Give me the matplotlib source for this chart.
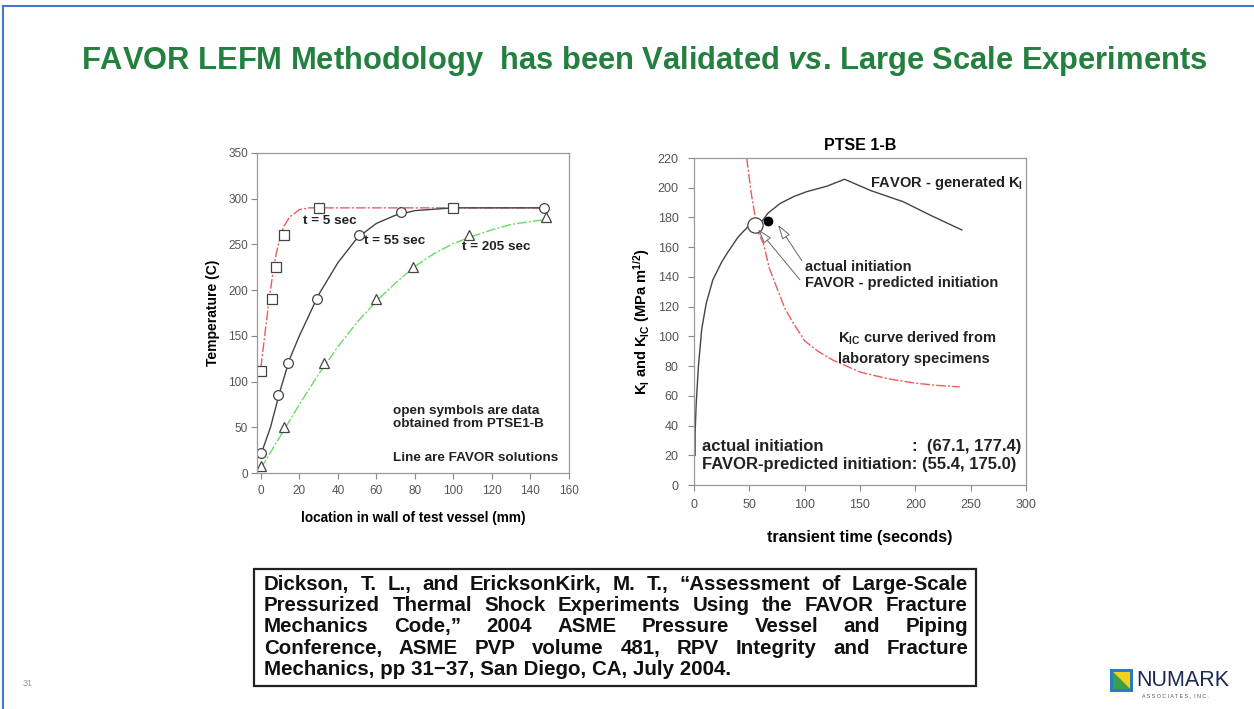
import numpy as np
import matplotlib
matplotlib.use("Agg")
import matplotlib.pyplot as plt
from matplotlib.patches import Rectangle, Polygon

# ---- left chart: temperature profiles (mm, deg C)
t5_data_x = [0, 6, 8, 12, 30, 100]
t5_data_y = [112, 190, 225, 260, 290, 290]
t5_line_x = [0, 2, 4, 6, 8, 10, 12, 15, 20, 25, 147]
t5_line_y = [115, 150, 185, 215, 240, 258, 270, 280, 288, 290, 290]

t55_data_x = [0, 9, 14, 29, 51, 73, 147]
t55_data_y = [22, 85, 120, 190, 260, 285, 290]
t55_line_x = [0, 5, 10, 15, 20, 30, 40, 50, 60, 70, 80, 100, 147]
t55_line_y = [20, 50, 90, 125, 150, 195, 230, 257, 273, 282, 287, 290, 290]

t205_data_x = [0, 12, 33, 60, 79, 108, 148]
t205_data_y = [8, 50, 120, 190, 225, 260, 280]
t205_line_x = [0, 10, 20, 30, 40, 50, 60, 70, 80, 90, 100, 110, 120, 130, 147]
t205_line_y = [5, 40, 75, 108, 138, 165, 188, 208, 226, 240, 251, 259, 266, 272, 277]

# ---- right chart: PTSE 1-B (seconds, MPa m^1/2)
ki_t = [1, 1, 2, 4, 7, 11, 17, 25, 30, 40, 49, 55, 62, 67, 78, 90, 102, 120, 136, 160, 189, 215, 242]
ki_v = [20, 35, 55, 80, 105, 122, 138, 150, 156, 167, 174, 176, 178, 183, 189.5, 194, 197.4, 201, 205.7, 198, 190.6, 181, 171.6]
kic_t = [47.6, 50, 52, 55, 58, 62.7, 68, 74.7, 82, 89.6, 100, 112, 125.6, 150, 175, 200, 220, 240]
kic_v = [220, 206, 195, 181.6, 170, 162.6, 146, 133, 119, 109, 97, 90, 84, 76, 71.5, 68.5, 67, 66]
actual_init = (67.1, 177.4)
favor_init = (55.4, 175.0)

citation = [
    "Dickson, T. L., and EricksonKirk, M. T., \u201cAssessment of Large-Scale",
    "Pressurized Thermal Shock Experiments Using the FAVOR Fracture",
    "Mechanics Code,\u201d 2004 ASME Pressure Vessel and Piping",
    "Conference, ASME PVP volume 481, RPV Integrity and Fracture",
    "Mechanics, pp 31\u221237, San Diego, CA, July 2004.",
]

W, H = 1254, 709
plt.rcParams['font.family'] = ['Liberation Sans', 'DejaVu Sans']
plt.rcParams['mathtext.fontset'] = 'custom'
plt.rcParams['mathtext.rm'] = 'Liberation Sans:bold'
plt.rcParams['mathtext.bf'] = 'Liberation Sans:bold'
plt.rcParams['mathtext.it'] = 'Liberation Sans:bold:italic'

fig = plt.figure(figsize=(W / 100, H / 100), dpi=100)
fig.patch.set_facecolor('white')


def fx(px):
    return px / W


def fy(py):
    return 1 - py / H


# slide border
fig.add_artist(plt.Line2D([fx(3), 1], [fy(6), fy(6)], color='#4a76c8', lw=1.5))
fig.add_artist(plt.Line2D([fx(3), fx(3)], [fy(6), 0], color='#4a76c8', lw=1.5))

fig.text(fx(644), fy(61), "FAVOR LEFM Methodology  has been Validated $\\mathit{vs}$. Large Scale Experiments",
         ha='center', va='center', fontsize=22.2, fontweight='bold', color='#23803f')


def style_axes(ax, size):
    for s in ax.spines.values():
        s.set_color('#9a9a9a')
        s.set_linewidth(0.9)
    ax.tick_params(direction='out', length=4, width=0.8, color='#888888',
                   labelsize=size, labelcolor='#555555', pad=5)


# ---------------- left chart
ax1 = fig.add_axes([fx(257), fy(473), fx(569 - 257), (473 - 153) / H])
ax1.plot(t5_line_x, t5_line_y, color='#f25a5a', lw=1, dashes=(7, 1.5, 1.5, 1.5))
ax1.plot(t55_line_x, t55_line_y, color='#444444', lw=1)
ax1.plot(t205_line_x, t205_line_y, color='#66dd66', lw=1, dashes=(7, 1.5, 1.5, 1.5))
mk = dict(ms=7, mfc='white', mec='#444444', mew=0.9, ls='none')
ax1.plot(t5_data_x, t5_data_y, 's', **mk)
ax1.plot(t55_data_x, t55_data_y, 'o', **mk)
ax1.plot(t205_data_x, t205_data_y, '^', **mk)
ax1.set_xlim(-2, 160)
ax1.set_ylim(0, 350)
ax1.set_xticks(np.arange(0, 161, 20))
ax1.set_yticks(np.arange(0, 351, 50))
style_axes(ax1, 8.5)
ax1.tick_params(axis='y', pad=2.5)
ax1.set_xlabel("location in wall of test vessel (mm)", fontsize=9.8, fontweight='bold', labelpad=10)
ax1.set_ylabel("Temperature (C)", fontsize=10, fontweight='bold', labelpad=6)
kw = dict(fontsize=9.7, fontweight='bold', color='#222222')
ax1.text(22, 276, "t = 5 sec", va='center', **kw)
ax1.text(53.5, 254, "t = 55 sec", va='center', **kw)
ax1.text(104.4, 247, "t = 205 sec", va='center', **kw)
ax1.text(68.6, 61, "open symbols are data\nobtained from PTSE1-B", va='center',
         linespacing=1.15, **kw)
ax1.text(68.6, 16, "Line are FAVOR solutions", va='center', **kw)

# ---------------- right chart
ax2 = fig.add_axes([fx(694), fy(485), fx(1026 - 694), (485 - 158) / H])
ax2.plot(kic_t, kic_v, color='#f25a5a', lw=1, dashes=(7, 1.5, 1.5, 1.5))
ax2.plot(ki_t, ki_v, color='#444444', lw=1)
ax2.plot(*favor_init, 'o', ms=11, mfc='white', mec='#444444', mew=0.9)
ax2.plot(*actual_init, 'o', ms=6, color='black')
ax2.set_xlim(0, 300)
ax2.set_ylim(0, 220)
ax2.set_xticks(np.arange(0, 301, 50))
ax2.set_yticks(np.arange(0, 221, 20))
style_axes(ax2, 9)
ax2.tick_params(axis='y', pad=7)
ax2.tick_params(axis='x', pad=6)
ax2.set_xlabel("transient time (seconds)", fontsize=11.5, fontweight='bold', labelpad=14)
ax2.set_ylabel(r"K$_\mathrm{I}$ and K$_\mathrm{IC}$ (MPa m$^\mathrm{1/2}$)", fontsize=10.5,
               fontweight='bold', labelpad=4)
ax2.set_title("PTSE 1-B", fontsize=11.5, fontweight='bold', pad=6)
kw2 = dict(fontsize=10.5, fontweight='bold', color='#222222', va='center')
ax2.text(159, 203, r"FAVOR - generated K$_\mathrm{I}$", **kw2)
ax2.text(100.3, 147, "actual initiation", **kw2)
ax2.text(100.3, 136, "FAVOR - predicted initiation", **kw2)
ax2.text(130, 99, r"K$_\mathrm{IC}$ curve derived from", **kw2)
ax2.text(130, 85, "laboratory specimens", **kw2)
kw3 = dict(fontsize=12, fontweight='bold', color='#222222', va='center')
ax2.text(7.5, 26, "actual initiation", **kw3)
ax2.text(296, 26, ":  (67.1, 177.4)", ha='right', **kw3)
ax2.text(7.5, 13.5, "FAVOR-predicted initiation: (55.4, 175.0)", **kw3)
arr = dict(arrowstyle='-|>,head_length=0.9,head_width=0.28', color='#666666', lw=0.7,
           fc='white', shrinkA=0, shrinkB=0)
ax2.annotate("", xy=(76, 175), xytext=(97.4, 151), arrowprops=arr)
ax2.annotate("", xy=(58, 172), xytext=(95.8, 138), arrowprops=arr)

# ---------------- citation box, justified lines
fig.add_artist(Rectangle((fx(254), fy(686)), fx(976 - 254), (686 - 569) / H,
                         transform=fig.transFigure, fill=False, ec='#222222', lw=1.6))
fig.canvas.draw()
renderer = fig.canvas.get_renderer()
left_px, right_px = 264, 968
ckw = dict(fontsize=14.8, fontweight='bold', va='center', color='#111111')
for i, line in enumerate(citation):
    ypx = 584.3 + i * 21.3
    if i == len(citation) - 1:
        fig.text(fx(left_px), fy(ypx), line, **ckw)
        continue
    words = line.split(' ')
    arts = [fig.text(0, fy(ypx), w, **ckw) for w in words]
    widths = [a.get_window_extent(renderer).width for a in arts]
    gap = (right_px - left_px - sum(widths)) / (len(words) - 1)
    xpos = left_px
    for a, wd in zip(arts, widths):
        a.set_x(fx(xpos))
        xpos += wd + gap

# slide number
fig.text(fx(28), fy(683), "31", fontsize=6.5, color='#999999', va='center', ha='center')

# logo
fig.add_artist(Polygon([(fx(1110), fy(669)), (fx(1133), fy(669)), (fx(1133), fy(692)), (fx(1110), fy(692))],
                       closed=True, transform=fig.transFigure, fc='#2b7bc0', ec='none'))
fig.add_artist(Polygon([(fx(1113), fy(672)), (fx(1130), fy(672)), (fx(1130), fy(689))],
                       closed=True, transform=fig.transFigure, fc='#f2d21a', ec='none'))
fig.add_artist(Polygon([(fx(1113), fy(672)), (fx(1130), fy(689)), (fx(1113), fy(689))],
                       closed=True, transform=fig.transFigure, fc='#3aa14a', ec='none'))
fig.text(fx(1136), fy(680), "NUMARK", fontsize=15.5, color='#1c2a55', va='center')
fig.text(fx(1142), fy(696), "A S S O C I A T E S ,  I N C .", fontsize=3.8, color='#555555', va='center')

fig.savefig("out.png", dpi=100)
